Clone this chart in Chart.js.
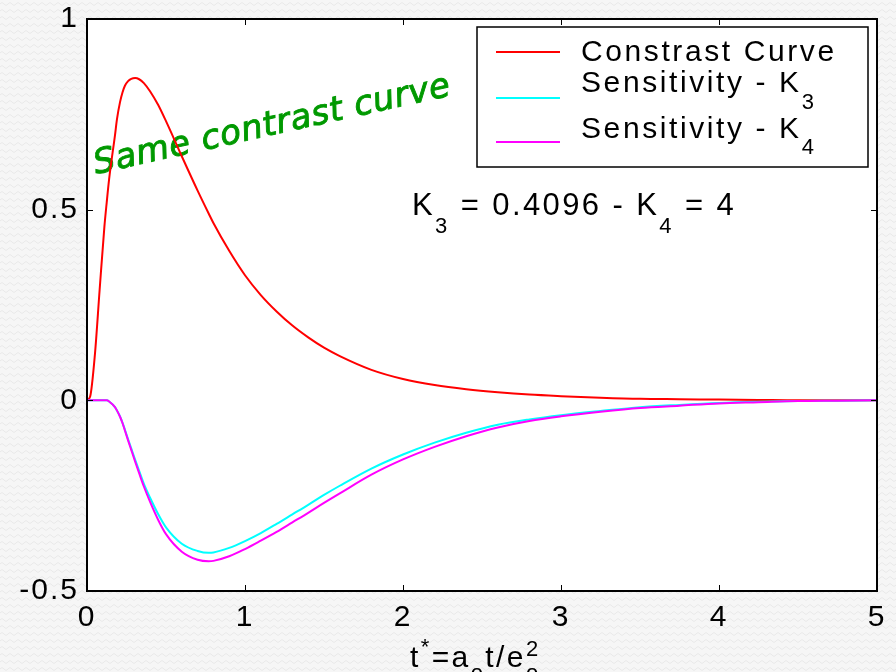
<!DOCTYPE html>
<html>
<head>
<meta charset="utf-8">
<script src="https://cdn.jsdelivr.net/npm/chart.js@4.4.1/dist/chart.umd.min.js"></script>
<style>
html,body{margin:0;padding:0;width:896px;height:672px;overflow:hidden;}
body{background-color:#f6f6f6;background-image:url("data:image/svg+xml,%3Csvg xmlns='http://www.w3.org/2000/svg' width='8' height='7'%3E%3Cpath d='M0 4 Q2 1 4 4 T8 4' fill='none' stroke='%23e9e9e9' stroke-width='1'/%3E%3C/svg%3E");}
#c{display:block;}
</style>
</head>
<body>
<canvas id="c" width="896" height="672"></canvas>
<script>
// ---- data ----
const tValues = [0, 0.02, 0.05, 0.08, 0.11, 0.125, 0.14, 0.177, 0.19, 0.209, 0.225, 0.24, 0.26, 0.28, 0.305, 0.33, 0.36, 0.4, 0.45, 0.5, 0.6, 0.7, 0.77, 0.8, 0.9, 1.0, 1.1, 1.2, 1.3, 1.4, 1.5, 1.6, 1.8, 2.0, 2.2, 2.4, 2.6, 2.8, 3.0, 3.25, 3.5, 3.75, 4.0, 4.25, 4.5, 4.75, 5.0];
const contrastCurve = [0, 0.01, 0.12, 0.29, 0.455, 0.52, 0.58, 0.695, 0.738, 0.782, 0.808, 0.825, 0.837, 0.843, 0.845, 0.842, 0.832, 0.81, 0.775, 0.732, 0.64, 0.55, 0.49, 0.465, 0.392, 0.328, 0.276, 0.233, 0.196, 0.165, 0.138, 0.116, 0.080, 0.056, 0.040, 0.029, 0.021, 0.015, 0.011, 0.007, 0.004, 0.003, 0.002, 0.001, 0, 0, 0];
const sensitivityK3 = [0, 0, 0, 0, 0, 0, -0.003, -0.018, -0.027, -0.042, -0.059, -0.077, -0.102, -0.126, -0.156, -0.185, -0.219, -0.256, -0.298, -0.333, -0.376, -0.395, -0.400, -0.399, -0.387, -0.369, -0.348, -0.324, -0.299, -0.274, -0.248, -0.224, -0.179, -0.142, -0.111, -0.085, -0.064, -0.050, -0.039, -0.028, -0.018, -0.012, -0.007, -0.004, -0.002, -0.001, 0];
const sensitivityK4 = [0, 0, 0, 0, 0, 0, -0.003, -0.018, -0.027, -0.043, -0.060, -0.079, -0.105, -0.130, -0.161, -0.191, -0.226, -0.267, -0.313, -0.351, -0.397, -0.418, -0.422, -0.421, -0.409, -0.390, -0.368, -0.345, -0.320, -0.295, -0.269, -0.244, -0.195, -0.155, -0.122, -0.094, -0.071, -0.054, -0.042, -0.030, -0.020, -0.014, -0.008, -0.005, -0.002, -0.001, 0];
const xTicks = [0, 1, 2, 3, 4, 5];
const yTicks = [-0.5, 0, 0.5, 1];
const seriesLabels = ['Constrast Curve', 'Sensitivity - K', 'Sensitivity - K'];
const seriesSubs = ['', '3', '4'];
const seriesColors = ['#ff0000', '#00ffff', '#ff00ff'];
const annotationParts = ['K', '3', ' = 0.4096 - K', '4', ' = 4'];
const noteText = 'Same contrast curve';

const FONT = '"Liberation Sans", Arial, Helvetica, sans-serif';

function pts(ys){ return tValues.map((t,i)=>({x:t, y:ys[i]})); }

function rich(ctx, x, y, parts){
  for (const p of parts){
    ctx.font = p.size + 'px ' + FONT;
    ctx.fillText(p.t, x, y + (p.dy||0));
    if (!p.noAdvance) x += ctx.measureText(p.t).width;
  }
  return x;
}

const deco = {
  id: 'deco',
  beforeDraw(chart){ chart.ctx.letterSpacing = '2px'; },
  beforeDatasetsDraw(chart){
    const {ctx, chartArea:a} = chart;
    ctx.save();
    ctx.fillStyle = '#ffffff';
    ctx.fillRect(a.left, a.top, a.right - a.left, a.bottom - a.top);
    // rotated green note
    ctx.letterSpacing = '0.6px';
    ctx.translate(96, 174);
    ctx.rotate(-12.5 * Math.PI / 180);
    ctx.font = 'italic 34px "DejaVu Sans", sans-serif';
    ctx.fillStyle = '#009900';
    ctx.strokeStyle = '#009900';
    ctx.lineWidth = 0.9;
    ctx.textBaseline = 'alphabetic';
    ctx.textAlign = 'left';
    ctx.fillText(noteText, 0, 0);
    ctx.strokeText(noteText, 0, 0);
    ctx.restore();
  },
  afterDatasetsDraw(chart){
    const {ctx, chartArea:a, scales} = chart;
    const xs = scales.x, ys = scales.y;
    ctx.save();
    // frame
    ctx.strokeStyle = '#000';
    ctx.lineWidth = 2;
    ctx.strokeRect(a.left, a.top, a.right - a.left, a.bottom - a.top);
    // inward ticks
    ctx.lineWidth = 1;
    const TL = 6;
    ctx.beginPath();
    xs.ticks.forEach(tk => {
      const px = Math.round(xs.getPixelForValue(tk.value)) + 0.5;
      ctx.moveTo(px, a.bottom); ctx.lineTo(px, a.bottom - TL);
      ctx.moveTo(px, a.top); ctx.lineTo(px, a.top + TL);
    });
    ys.ticks.forEach(tk => {
      const py = Math.round(ys.getPixelForValue(tk.value)) + 0.5;
      ctx.moveTo(a.left, py); ctx.lineTo(a.left + TL, py);
      ctx.moveTo(a.right, py); ctx.lineTo(a.right - TL, py);
    });
    ctx.stroke();

    // legend box
    const lx = 477, ly = 27, lw = 391, lh = 140;
    ctx.fillStyle = '#fff';
    ctx.fillRect(lx, ly, lw, lh);
    ctx.strokeStyle = '#000';
    ctx.lineWidth = 1.5;
    ctx.strokeRect(lx, ly, lw, lh);
    const lineY = [52, 98, 142];
    const textY = [61, 92, 138];
    const subDy = [0, 17, 16];
    ctx.fillStyle = '#000';
    ctx.textAlign = 'left';
    ctx.textBaseline = 'alphabetic';
    ctx.letterSpacing = '2.6px';
    chart.data.datasets.forEach((ds, i) => {
      ctx.strokeStyle = ds.borderColor;
      ctx.lineWidth = 2;
      ctx.beginPath(); ctx.moveTo(496, lineY[i]); ctx.lineTo(560, lineY[i]); ctx.stroke();
      const parts = [{t: seriesLabels[i], size: 30}];
      if (seriesSubs[i]) parts.push({t: seriesSubs[i], size: 22, dy: subDy[i]});
      rich(ctx, 581, textY[i], parts);
    });

    // annotation K3 = 0.4096 - K4 = 4
    ctx.letterSpacing = '2.4px';
    rich(ctx, 412, 215, [
      {t: annotationParts[0], size: 31},
      {t: annotationParts[1], size: 22, dy: 18},
      {t: annotationParts[2], size: 31},
      {t: annotationParts[3], size: 22, dy: 18},
      {t: annotationParts[4], size: 31}
    ]);

    // x-axis title t* = a_o t / e_o^2
    rich(ctx, 410, 667, [
      {t: 't', size: 30},
      {t: '*', size: 22, dy: -13},
      {t: '=a', size: 30},
      {t: 'o', size: 22, dy: 13},
      {t: 't/e', size: 30},
      {t: '2', size: 22, dy: -11, noAdvance: true},
      {t: 'o', size: 22, dy: 13}
    ]);
    ctx.restore();
  }
};

function zeroPad(s){ s.paddingTop = 0; s.paddingBottom = 0; s.paddingLeft = 0; s.paddingRight = 0; }

new Chart(document.getElementById('c').getContext('2d'), {
  type: 'line',
  data: {
    datasets: [
      {label: seriesLabels[0], data: pts(contrastCurve), borderColor: seriesColors[0], order: 2},
      {label: seriesLabels[1] + seriesSubs[1], data: pts(sensitivityK3), borderColor: seriesColors[1], order: 1},
      {label: seriesLabels[2] + seriesSubs[2], data: pts(sensitivityK4), borderColor: seriesColors[2], order: 0}
    ].map(d => Object.assign(d, {borderWidth: 2, pointRadius: 0, fill: false, cubicInterpolationMode: 'monotone'}))
  },
  options: {
    responsive: false,
    animation: false,
    devicePixelRatio: 1,
    layout: {padding: {left: 0, right: 19, top: 19, bottom: 0}},
    plugins: {legend: {display: false}, tooltip: {enabled: false}},
    scales: {
      x: {
        type: 'linear', min: 0, max: 5,
        afterBuildTicks(s){ s.ticks = xTicks.map(v => ({value: v})); },
        afterFit(s){ s.height = 81; zeroPad(s); },
        grid: {display: false, drawTicks: false},
        border: {display: false},
        ticks: {color: '#000', font: {family: FONT, size: 30}, padding: 9, maxRotation: 0, autoSkip: false, callback: v => String(v)}
      },
      y: {
        type: 'linear', min: -0.5, max: 1,
        afterBuildTicks(s){ s.ticks = yTicks.map(v => ({value: v})); },
        afterFit(s){ s.width = 87; zeroPad(s); },
        grid: {display: false, drawTicks: false},
        border: {display: false},
        ticks: {color: '#000', font: {family: FONT, size: 30}, padding: 8, autoSkip: false, callback: v => String(v)}
      }
    }
  },
  plugins: [deco]
});
</script>
</body>
</html>
